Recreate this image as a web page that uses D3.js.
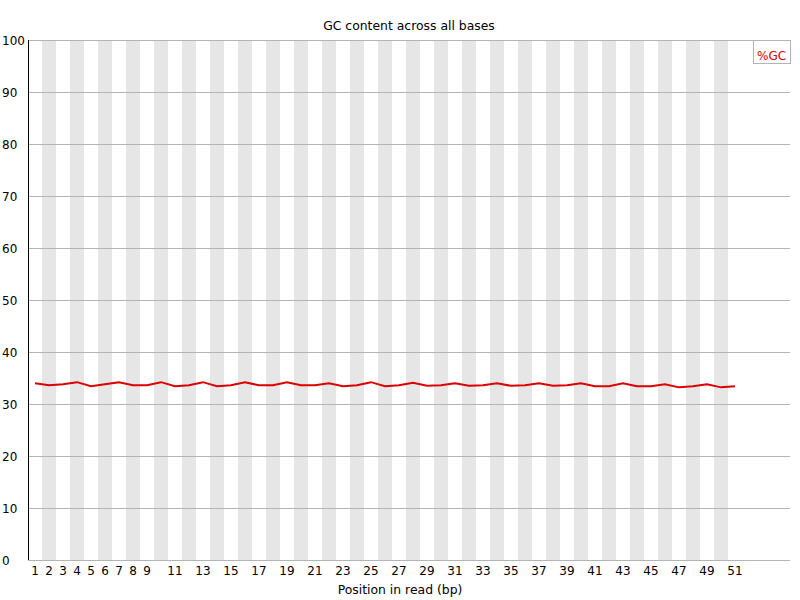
<!DOCTYPE html>
<html>
<head>
<meta charset="utf-8">
<script src="https://cdn.jsdelivr.net/npm/d3@7"></script>
<style>
  body { margin: 0; background: #fff; }
  text { font-family: "DejaVu Sans", sans-serif; font-size: 12px; }
</style>
</head>
<body>
<script>
// data
var positions = d3.range(1, 52);
var gcValues = [34.0, 33.6, 33.8, 34.2, 33.4, 33.8, 34.2, 33.6, 33.6, 34.2,
                33.4, 33.6, 34.2, 33.4, 33.6, 34.2, 33.6, 33.6, 34.2, 33.6,
                33.6, 34.0, 33.4, 33.6, 34.2, 33.4, 33.6, 34.1, 33.5, 33.6,
                34.0, 33.5, 33.6, 34.0, 33.5, 33.6, 34.0, 33.5, 33.6, 34.0,
                33.4, 33.4, 34.0, 33.4, 33.4, 33.8, 33.2, 33.4, 33.8, 33.2, 33.4];
var xTickLabels = [1, 2, 3, 4, 5, 6, 7, 8, 9, 11, 13, 15, 17, 19, 21, 23, 25, 27, 29,
                   31, 33, 35, 37, 39, 41, 43, 45, 47, 49, 51];
var yTicks = [0, 10, 20, 30, 40, 50, 60, 70, 80, 90, 100];

(function() {

    var W = 800, H = 600;
    var plotLeft = 28, plotRight = 790, plotTop = 40, plotBottom = 560, binW = 14;

    var svg = d3.select('body').append('svg')
        .attr('width', W)
        .attr('height', H);

    var x = d3.scaleBand()
        .domain(positions)
        .range([plotLeft, plotLeft + positions.length * binW]);

    var y = d3.scaleLinear()
        .domain([0, 100])
        .range([plotBottom, plotTop]);

    // alternating bands, even positions shaded
    svg.selectAll('rect.band')
        .data(positions.filter(function(p) { return p % 2 === 0; }))
        .enter().append('rect')
        .attr('class', 'band')
        .attr('x', function(d) { return x(d); })
        .attr('y', plotTop)
        .attr('width', x.bandwidth())
        .attr('height', plotBottom - plotTop)
        .attr('fill', '#e6e6e6');

    // horizontal grid
    svg.selectAll('line.grid')
        .data(yTicks)
        .enter().append('line')
        .attr('class', 'grid')
        .attr('x1', plotLeft).attr('x2', plotRight)
        .attr('y1', function(d) { return y(d) + 0.5; })
        .attr('y2', function(d) { return y(d) + 0.5; })
        .attr('stroke', '#b4b4b4')
        .attr('stroke-width', 1);

    // y axis line
    svg.append('line')
        .attr('x1', plotLeft + 0.5).attr('x2', plotLeft + 0.5)
        .attr('y1', plotTop).attr('y2', plotBottom)
        .attr('stroke', '#000');

    // y labels (left aligned like fastqc)
    svg.selectAll('text.ylab')
        .data(yTicks)
        .enter().append('text')
        .attr('class', 'ylab')
        .attr('x', 2)
        .attr('y', function(d) { return y(d) + 5; })
        .text(function(d) { return d; });

    // x labels
    svg.selectAll('text.xlab')
        .data(xTickLabels)
        .enter().append('text')
        .attr('class', 'xlab')
        .attr('x', function(d) { return x(d) + x.bandwidth() / 2; })
        .attr('y', plotBottom + 15)
        .attr('text-anchor', 'middle')
        .text(function(d) { return d; });

    // titles
    svg.append('text')
        .attr('x', (plotLeft + plotRight) / 2)
        .attr('y', 30)
        .attr('text-anchor', 'middle')
        .style('font-size', '12.4px')
        .text('GC content across all bases');

    svg.append('text')
        .attr('x', W / 2).attr('y', 594)
        .attr('text-anchor', 'middle')
        .style('font-size', '12.4px')
        .text('Position in read (bp)');

    // GC line
    var line = d3.line()
        .x(function(d, i) { return x(positions[i]) + x.bandwidth() / 2; })
        .y(function(d) { return y(d); });

    svg.append('path')
        .datum(gcValues)
        .attr('d', line)
        .attr('fill', 'none')
        .attr('stroke', '#dc0000')
        .attr('stroke-width', 2);

    // legend
    svg.append('rect')
        .attr('x', 753.5).attr('y', 40.5)
        .attr('width', 37).attr('height', 23)
        .attr('fill', '#fff')
        .attr('stroke', '#b4b4b4');

    svg.append('text')
        .attr('x', 757).attr('y', 60)
        .attr('fill', '#dc0000')
        .text('%GC');

})();
</script>
</body>
</html>
